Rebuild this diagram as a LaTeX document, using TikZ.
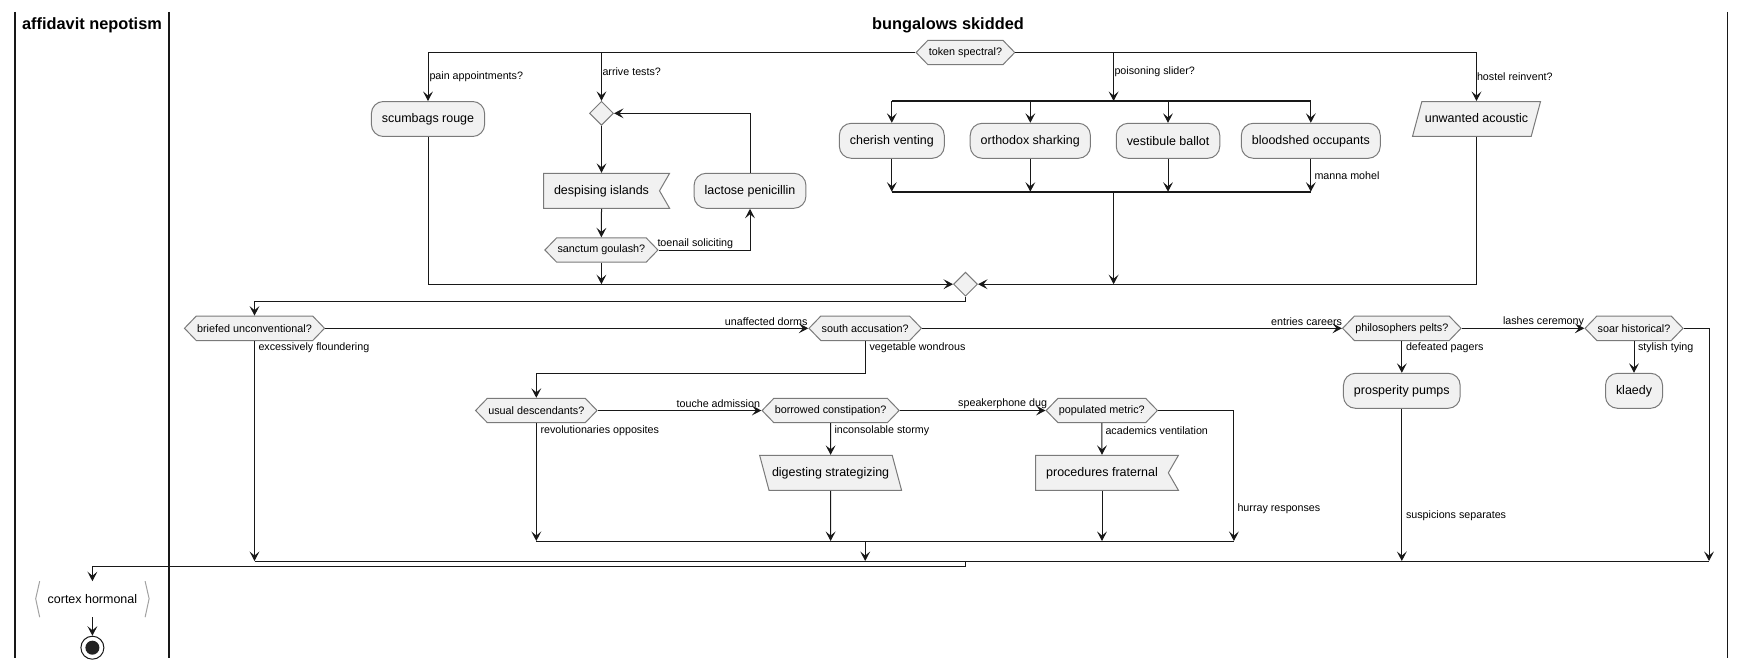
\documentclass[tikz,border=0pt]{standalone}
\usepackage{fontspec}
\setmainfont{Liberation Sans}
\usetikzlibrary{arrows.meta, shapes.geometric, shapes.symbols}

\definecolor{boxfill}{HTML}{F1F1F1}
\definecolor{boxline}{HTML}{7A7A7A}
\definecolor{wire}{HTML}{181818}

\tikzset{
  activity/.style={draw=boxline, fill=boxfill, rounded corners=0.24cm,
    minimum height=0.7cm, inner xsep=0.21cm, inner ysep=0pt,
    font=\fontsize{7.1}{8.5}\selectfont},
  choice/.style={signal, signal to=east and west, signal pointer angle=92,
    draw=boxline, fill=boxfill, minimum height=0.488cm, inner xsep=0.5pt,
    inner ysep=0pt, font=\fontsize{6.15}{7}\selectfont},
  receive/.style={signal, signal to=nowhere, signal from=east,
    signal pointer angle=120, draw=boxline, fill=boxfill,
    minimum height=0.7cm, inner xsep=0.21cm, inner ysep=0pt,
    font=\fontsize{7.1}{8.5}\selectfont},
  slantr/.style={trapezium, trapezium stretches=true,
    trapezium left angle=75, trapezium right angle=105,
    draw=boxline, fill=boxfill, text height=5.3pt, text depth=1.5pt,
    inner xsep=0.06cm, inner ysep=6.55pt,
    font=\fontsize{7.1}{8.5}\selectfont},
  slantl/.style={slantr, trapezium left angle=105, trapezium right angle=75},
  merge/.style={diamond, draw=boxline, fill=boxfill, minimum size=0.48cm,
    inner sep=0pt},
  forkbar/.style={line width=1.3pt, draw=wire},
  guard/.style={inner sep=0pt, font=\fontsize{6.1}{7}\selectfont},
  lanetitle/.style={inner sep=0pt, font=\fontsize{9.3}{11}\selectfont\bfseries},
  lane/.style={line width=1.1pt, draw=wire},
}

\begin{document}
\begin{tikzpicture}[x=0.02cm, y=-0.02cm, line width=0.57pt, draw=wire,
    >={Stealth[length=5.4pt, width=5.6pt, inset=2.3pt]}]
  \useasboundingbox (0,0) rectangle (1746,669);

  % swimlanes
  \draw[lane] (15,12) -- (15,658);
  \draw[lane] (169,12) -- (169,658);
  \draw[lane] (1727.5,12) -- (1727.5,658);
  \node (lanea) [lanetitle] at (92,25) {affidavit nepotism};
  \node (laneb) [lanetitle] at (948,25) {bungalows skidded};

  % first block
  \node (tok) [choice] at (965.4,52.5) {token spectral?};
  \node (scum) [activity] at (428,119) {scumbags rouge};
  \node (loopd) [merge] at (601.5,113.3) {};
  \node (desp) [receive] at (601.5,190.8) {despising islands};
  \node (sang) [choice] at (601.4,250) {sanctum goulash?};
  \node (lact) [activity] at (750,190.8) {lactose penicillin};
  \node (cher) [activity] at (891.8,140.8) {cherish venting};
  \node (orth) [activity] at (1030.3,140.8) {orthodox sharking};
  \node (vest) [activity] at (1168,140.8) {vestibule ballot};
  \node (blood) [activity] at (1310.8,140.8) {bloodshed occupants};
  \node (unw) [slantr] at (1476.5,119) {unwanted acoustic};
  \node (mrg) [merge] at (965.5,284.2) {};

  \coordinate (arrj) at (601.5,52.5);
  \coordinate (poij) at (1113.6,52.5);
  \coordinate (fa1) at (891.8,101);
  \coordinate (fa2) at (1311,101);
  \coordinate (fb1) at (891.8,191.7);
  \coordinate (fb2) at (1311,191.7);
  \coordinate (mrgout) at (965.5,301.5);

  \draw[->] (tok.west) -| (scum.north);
  \draw[->] (arrj) -- (loopd.north);
  \draw[->] (tok.east) -| (unw.north);
  \draw[->] (poij) -- (poij |- fa1);
  \draw[forkbar] (fa1) -- (fa2);
  \draw[forkbar] (fb1) -- (fb2);
  \foreach \b in {cher, orth, vest, blood} {
    \draw[->] (\b |- fa1) -- (\b.north);
    \draw[->] (\b.south) -- (\b |- fb1);
  }
  \draw[->] (poij |- fb1) -- (poij |- mrg);
  \draw[->] (unw.south) |- (mrg.east);
  \draw[->] (scum.south) |- (mrg.west);
  \draw[->] (loopd.south) -- (desp.north);
  \draw[->] (desp.south) -- (sang.north);
  \draw[->] (sang.east) -| (lact.south);
  \draw[->] (lact.north) |- (loopd.east);
  \draw[->] (sang.south) -- (sang |- mrg);

  \node (lpain) [guard, anchor=west] at (429,77) {pain appointments?};
  \node (larr) [guard, anchor=west] at (602,72) {arrive tests?};
  \node (lpoi) [guard, anchor=west] at (1114,72) {poisoning slider?};
  \node (lhos) [guard, anchor=west] at (1476.5,77) {hostel reinvent?};
  \node (lman) [guard, anchor=west] at (1314,176) {manna mohel};
  \node (ltoe) [guard, anchor=west] at (657,244) {toenail soliciting};

  % second block
  \node (brie) [choice] at (254.5,328.3) {briefed unconventional?};
  \node (south) [choice] at (865.2,328.3) {south accusation?};
  \node (phil) [choice] at (1401.8,328.3) {philosophers pelts?};
  \node (soar) [choice] at (1634,328.3) {soar historical?};
  \node (pros) [activity] at (1401.8,390.8) {prosperity pumps};
  \node (klae) [activity] at (1634,390.8) {klaedy};
  \node (usual) [choice] at (536.3,410.5) {usual descendants?};
  \node (borr) [choice] at (830.6,410.5) {borrowed constipation?};
  \node (popu) [choice] at (1101.8,410.5) {populated metric?};
  \node (dig) [slantl] at (830.6,472.8) {digesting strategizing};
  \node (proc) [receive] at (1102,472.8) {procedures fraternal};
  \node (cort) [inner xsep=0.15cm, minimum height=0.7cm,
    font=\fontsize{7.1}{8.5}\selectfont] at (92.4,599.2) {cortex hormonal};
  \node (stop) [circle, draw=wire, fill=white, minimum size=0.46cm,
    inner sep=0pt] at (92.4,647.7) {};
  \fill[wire!95] (stop) circle (7);

  \coordinate (souj) at (865.2,373.3);
  \coordinate (hurj) at (1233.9,541);
  \coordinate (innl) at (536.3,541);
  \coordinate (soaj) at (1709,561);
  \coordinate (outl) at (254.5,561);
  \coordinate (outm) at (965.6,561);
  \coordinate (endj) at (965.6,566);

  \draw[->] (mrg.south) -- (mrgout) -| (brie.north);
  \draw[->] (brie.east) -- (south.west);
  \draw[->] (south.east) -- (phil.west);
  \draw[->] (phil.east) -- (soar.west);
  \draw[->] (phil.south) -- (pros.north);
  \draw[->] (soar.south) -- (klae.north);
  \draw[->] (south.south) -- (souj) -| (usual.north);
  \draw[->] (usual.east) -- (borr.west);
  \draw[->] (borr.east) -- (popu.west);
  \draw[->] (borr.south) -- (dig.north);
  \draw[->] (popu.south) -- (proc.north);
  \draw[->] (usual.south) -- (innl);
  \draw[->] (dig.south) -- (dig |- innl);
  \draw[->] (proc.south) -- (proc |- innl);
  \draw[->] (popu.east) -| (hurj);
  \draw (innl) -- (hurj);
  \draw[->] (south |- innl) -- (south |- outl);
  \draw[->] (brie.south) -- (outl);
  \draw[->] (pros.south) -- (pros |- outl);
  \draw[->] (soar.east) -| (soaj);
  \draw (outl) -- (soaj);
  \draw[->] (outm) -- (endj) -| (cort.north);
  \draw[->] (cort.south) -- (stop.north);
  \draw[boxline!70] (cort.north west) -- ++(-4,17.5) -- (cort.south west);
  \draw[boxline!70] (cort.north east) -- ++(4,17.5) -- (cort.south east);

  \node (lunaf) [guard, anchor=east] at (808,322) {unaffected dorms};
  \node (lexc) [guard, anchor=west] at (258,348) {excessively floundering};
  \node (lveg) [guard, anchor=west] at (869,348) {vegetable wondrous};
  \node (lent) [guard, anchor=east] at (1342.5,322) {entries careers};
  \node (ldef) [guard, anchor=west] at (1405.5,348) {defeated pagers};
  \node (llas) [guard, anchor=east] at (1584.5,322) {lashes ceremony};
  \node (lsty) [guard, anchor=west] at (1637.5,348) {stylish tying};
  \node (ltou) [guard, anchor=east] at (760.5,404) {touche admission};
  \node (lspe) [guard, anchor=east] at (1047.5,404) {speakerphone dug};
  \node (lrev) [guard, anchor=west] at (540,430.7) {revolutionaries opposites};
  \node (linc) [guard, anchor=west] at (834,430.7) {inconsolable stormy};
  \node (laca) [guard, anchor=west] at (1105,430.7) {academics ventilation};
  \node (lhur) [guard, anchor=west] at (1237,509) {hurray responses};
  \node (lsus) [guard, anchor=west] at (1405.5,516) {suspicions separates};
\end{tikzpicture}
\end{document}
